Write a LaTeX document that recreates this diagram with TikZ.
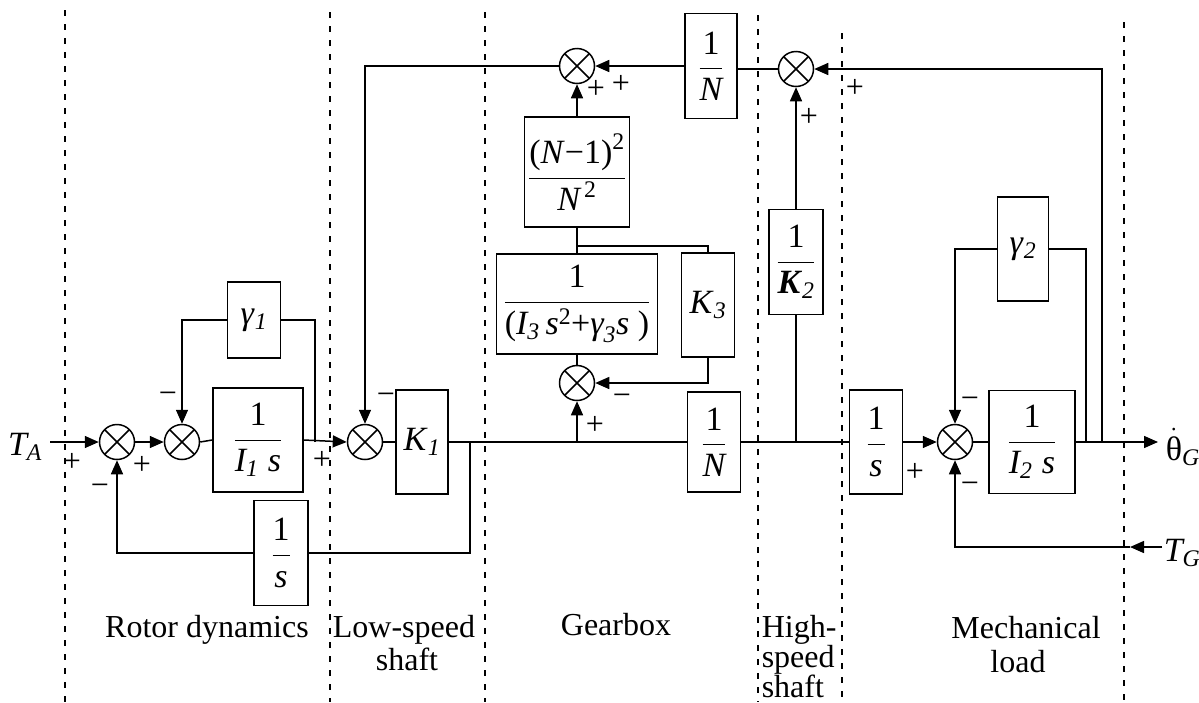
\RequirePackage{fix-cm}
\documentclass[tikz,border=0pt]{standalone}
\usepackage{fontspec}
\setmainfont{Liberation Serif}
\usepackage{amsmath}
\usetikzlibrary{arrows.meta}
\newcommand{\itx}[1]{\textit{#1}}
\begin{document}
\begin{tikzpicture}[x=1pt,y=-1pt, line width=1.5pt,
  blk/.style={draw, inner sep=0pt, font=\fontsize{34}{38}\selectfont},
  sumn/.style={draw, circle, minimum size=35pt, inner sep=0pt,
    path picture={\draw (path picture bounding box.north west)--(path picture bounding box.south east)
      (path picture bounding box.north east)--(path picture bounding box.south west);}},
  arr/.style={-{Triangle[length=14pt,width=12pt]}},
  sg/.style={font=\fontsize{32}{34}\selectfont, inner sep=0pt},
  lbl/.style={font=\fontsize{32}{36}\selectfont, inner sep=0pt, anchor=base},
  vd/.style={line width=1.2pt, dash pattern=on 6pt off 8pt}]
\useasboundingbox (0,0) rectangle (1199,702);
% section separators
\draw[vd] (65,10) -- (65,702);
\draw[vd] (330,12) -- (330,702);
\draw[vd] (485,12) -- (485,702);
\draw[vd] (758,15) -- (758,702);
\draw[vd] (842,33) -- (842,702);
\draw[vd] (1124,22) -- (1124,702);
% summing junctions
\node[sumn] (s1) at (117,442) {};
\node[sumn] (s2) at (182,442) {};
\node[sumn] (s3) at (365,442) {};
\node[sumn] (s4) at (577,383) {};
\node[sumn] (s5) at (577,66) {};
\node[sumn] (s6) at (796,69) {};
\node[sumn] (s7) at (955,442) {};
% blocks
\node[blk, minimum width=53pt, minimum height=76pt] (g1) at (254,320) {\itx{γ}$_{\itx{1}}$};
\node[blk, minimum width=90pt, minimum height=104pt] (b1) at (258,440) {$\dfrac{\text{1}}{\itx{I}_{\itx{1}}\;\itx{s}}$};
\node[blk, minimum width=52pt, minimum height=104pt] (k1) at (422,442) {\itx{K}$_{\itx{1}}$};
\node[blk, minimum width=54pt, minimum height=105pt] (fs) at (281,553) {$\dfrac{\text{1}}{\itx{s}}$};
\node[blk, minimum width=105pt, minimum height=110pt] (nn) at (577,172) {$\dfrac{\text{(\itx{N}−1)}^{\text{2}}}{\itx{N}^{\,\text{2}}}$};
\node[blk, minimum width=161pt, minimum height=100pt] (b3) at (577,304) {$\dfrac{\text{1}}{\text{(}\itx{I}_{\itx{3}}\,\itx{s}^{\text{2}}\text{+}\itx{γ}_{\itx{3}}\itx{s}\text{ )}}$};
\node[blk, minimum width=53pt, minimum height=104pt] (k3) at (708,305) {\itx{K}$_{\itx{3}}$};
\node[blk, minimum width=53pt, minimum height=100pt] (nl) at (714,442) {$\dfrac{\text{1}}{\itx{N}}$};
\node[blk, minimum width=52pt, minimum height=105pt] (nu) at (711,66) {$\dfrac{\text{1}}{\itx{N}}$};
\node[blk, minimum width=54pt, minimum height=105pt] (k2) at (796,262) {$\dfrac{\text{1}}{\textbf{\itx{K}}_{\itx{2}}}$};
\node[blk, minimum width=53pt, minimum height=104pt] (rs) at (876,442) {$\dfrac{\text{1}}{\itx{s}}$};
\node[blk, minimum width=86pt, minimum height=103pt] (b2) at (1032,442) {$\dfrac{\text{1}}{\itx{I}_{\itx{2}}\;\itx{s}}$};
\node[blk, minimum width=51pt, minimum height=104pt] (g2) at (1023,249) {\itx{γ}$_{\itx{2}}$};
% inputs / outputs
\node[font=\fontsize{34}{38}\selectfont, inner sep=0pt] (ta) at (25,447) {$\itx{T}_{\itx{A}}$};
\coordinate (tain) at (50,442);
\coordinate (out) at (1158,442);
\node[font=\fontsize{34}{38}\selectfont, inner sep=0pt, anchor=west] (thg) at (1165,447) {$\dot{\text{θ}}_{\itx{G}}$};
\node[font=\fontsize{34}{38}\selectfont, inner sep=0pt, anchor=west] (tg) at (1163,553) {$\itx{T}_{\itx{G}}$};
\coordinate (tgs) at (1162,547);
\coordinate (tga) at (1130,547);
% junction points
\coordinate (j1) at (315,442);
\coordinate (j2) at (470,442);
\coordinate (j5) at (577,442);
\coordinate (j6) at (577,246);
\coordinate (j7) at (796,442);
\coordinate (j3) at (1086,442);
\coordinate (j4) at (1102,442);
% connectors: rotor dynamics
\draw[arr] (tain) -- (s1.west);
\draw[arr] (s1.east) -- (s2.west);
\draw (s2.east) -- (b1.west);
\draw[arr] (b1.east) -- (s3.west);
\draw (j1) |- (g1.east);
\draw[arr] (g1.west) -| (s2.north);
\draw (s3.east) -- (k1.west);
\draw (j2) |- (fs.east);
\draw[arr] (fs.west) -| (s1.south);
% gearbox
\draw (k1.east) -- (nl.west);
\draw[arr] (j5) -- (s4.south);
\draw (s4.north) -- (b3.south);
\draw (b3.north) -- (nn.south);
\draw (j6) -| (k3.north);
\draw[arr] (k3.south) |- (s4.east);
\draw[arr] (nn.north) -- (s5.south);
\draw[arr] (nu.west) -- (s5.east);
\draw[arr] (s5.west) -| (s3.north);
% high-speed shaft
\draw (s6.west) -- (s6.west -| nu.east);
\draw (nl.east) -- (rs.west);
\draw (j7) -- (k2.south);
\draw[arr] (k2.north) -- (s6.south);
% mechanical load
\draw[arr] (rs.east) -- (s7.west);
\draw (s7.east) -- (b2.west);
\draw[arr] (b2.east) -- (out);
\draw (j3) |- (g2.east);
\draw[arr] (g2.west) -| (s7.north);
\draw[arr] (j4) |- (s6.east);
\draw[arr] (tgs) -- (tga);
\draw[arr] (tga) -| (s7.south);
% signs
\node[sg] (p1) at (72,462) {+};
\node[sg] (p2) at (142,465) {+};
\node[sg] (m1) at (100,490) {−};
\node[sg] (m2) at (168,398) {−};
\node[sg] (p3) at (322,460) {+};
\node[sg] (m3) at (386,399) {−};
\node[sg] (p4) at (596,89) {+};
\node[sg] (p5) at (621,84) {+};
\node[sg] (p6) at (595,425) {+};
\node[sg] (m4) at (622,400) {−};
\node[sg] (p7) at (809,117) {+};
\node[sg] (p8) at (855,88) {+};
\node[sg] (p9) at (915,472) {+};
\node[sg] (m5) at (970,403) {−};
\node[sg] (m6) at (970,488) {−};
% section labels
\node[lbl] (l1) at (207,637) {Rotor dynamics};
\node[lbl] (l2) at (404,637) {Low-speed};
\node[lbl] (l3) at (407,670) {shaft};
\node[lbl] (l4) at (616,635) {Gearbox};
\node[lbl, anchor=base west] (l5) at (761,637) {High-};
\node[lbl, anchor=base west] (l6) at (761,667) {speed};
\node[lbl, anchor=base west] (l7) at (761,697) {shaft};
\node[lbl] (l8) at (1026,638) {Mechanical};
\node[lbl] (l9) at (1018,672) {load};
\end{tikzpicture}
\end{document}
